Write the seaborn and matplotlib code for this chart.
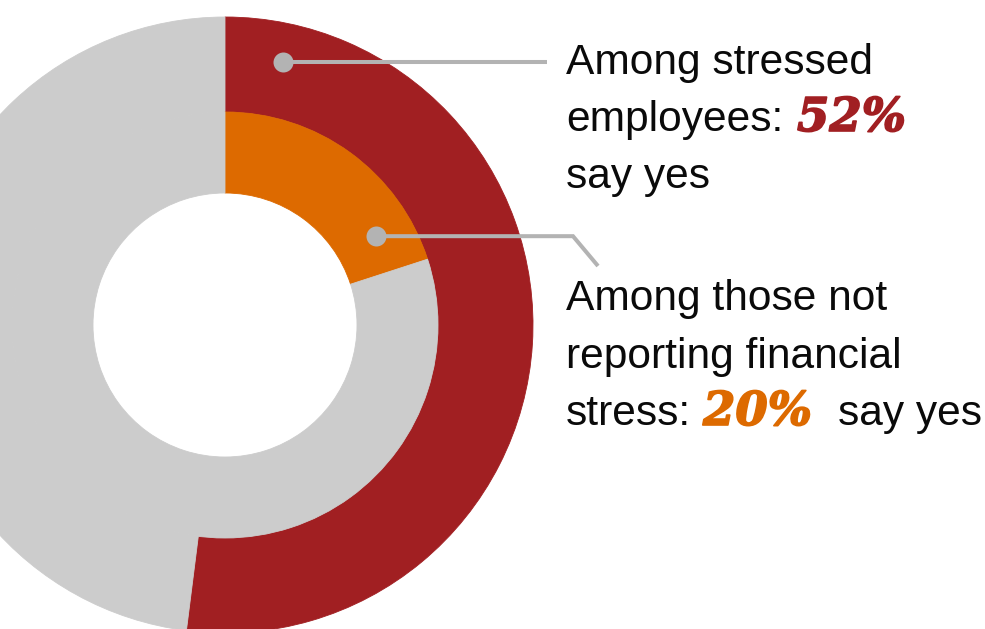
import numpy as np
import matplotlib
matplotlib.use("Agg")
import matplotlib.pyplot as plt
import matplotlib.patheffects as pe
import seaborn as sns

# share saying yes, per group
groups = ["Stressed employees", "Not reporting financial stress"]
yes_share = [52, 20]
ring_colors = ["#A11F22", "#DD6A00"]
rest_color = "#CCCCCC"
leader_color = "#B3B3B3"

sns.set_theme(style="white")
plt.rcParams["font.family"] = ["Liberation Sans", "DejaVu Sans"]

W, H = 985, 629
fig = plt.figure(figsize=(W / 100, H / 100), dpi=100)
ax = fig.add_axes([0, 0, 1, 1])

# ring geometry in pixels (y measured upwards)
cx, cy = 225, H - 325
r_outer, r_mid, r_hole = 308, 213, 132

for radius, width, val, col in [(r_outer, r_outer - r_mid, yes_share[0], ring_colors[0]),
                                (r_mid, r_mid - r_hole, yes_share[1], ring_colors[1])]:
    wedges, _ = ax.pie([val, 100 - val], colors=[col, rest_color], radius=radius, center=(cx, cy),
                       startangle=90, counterclock=False,
                       wedgeprops=dict(width=width), frame=True)
    for w in wedges:
        w.set_edgecolor(w.get_facecolor())
        w.set_linewidth(0.6)

ax.set_xlim(0, W)
ax.set_ylim(0, H)
ax.set_aspect("equal")
ax.axis("off")

# leader lines with dots
def polar(r, deg):
    a = np.deg2rad(deg)
    return cx + r * np.sin(a), cy + r * np.cos(a)

d1 = polar(269, 12.4)
d2 = polar(175, 59.5)
ax.plot([d1[0], 547], [d1[1], d1[1]], color=leader_color, lw=2.9, solid_capstyle="butt", zorder=5)
ax.plot([d2[0], 573, 598], [d2[1], d2[1], H - 266], color=leader_color, lw=2.9,
        solid_capstyle="butt", solid_joinstyle="miter", zorder=5)
ax.plot([d1[0], d2[0]], [d1[1], d2[1]], "o", color=leader_color, ms=14.4, mec="none", zorder=6)

fs = 30.6
x0 = 566
ink = "#0A0A0A"

def pct(x, y, s, col):
    ax.text(x, y, s, va="baseline", color=col, family=["DejaVu Serif"], fontweight="bold",
            fontstyle="italic", fontsize=33.5,
            path_effects=[pe.withStroke(linewidth=1.2, foreground=col)])

ax.text(x0, H - 74, "Among stressed", fontsize=fs, va="baseline", color=ink)
ax.text(x0, H - 131, "employees:", fontsize=fs, va="baseline", color=ink)
pct(797, H - 131, f"{yes_share[0]}%", ring_colors[0])
ax.text(x0, H - 188, "say yes", fontsize=fs, va="baseline", color=ink)

ax.text(x0, H - 310, "Among those not", fontsize=fs, va="baseline", color=ink)
ax.text(x0, H - 368, "reporting financial", fontsize=fs, va="baseline", color=ink)
ax.text(x0, H - 425, "stress:", fontsize=fs, va="baseline", color=ink)
pct(703, H - 425, f"{yes_share[1]}%", ring_colors[1])
ax.text(838, H - 425, "say yes", fontsize=fs, va="baseline", color=ink)

fig.savefig("out.png", dpi=100)
